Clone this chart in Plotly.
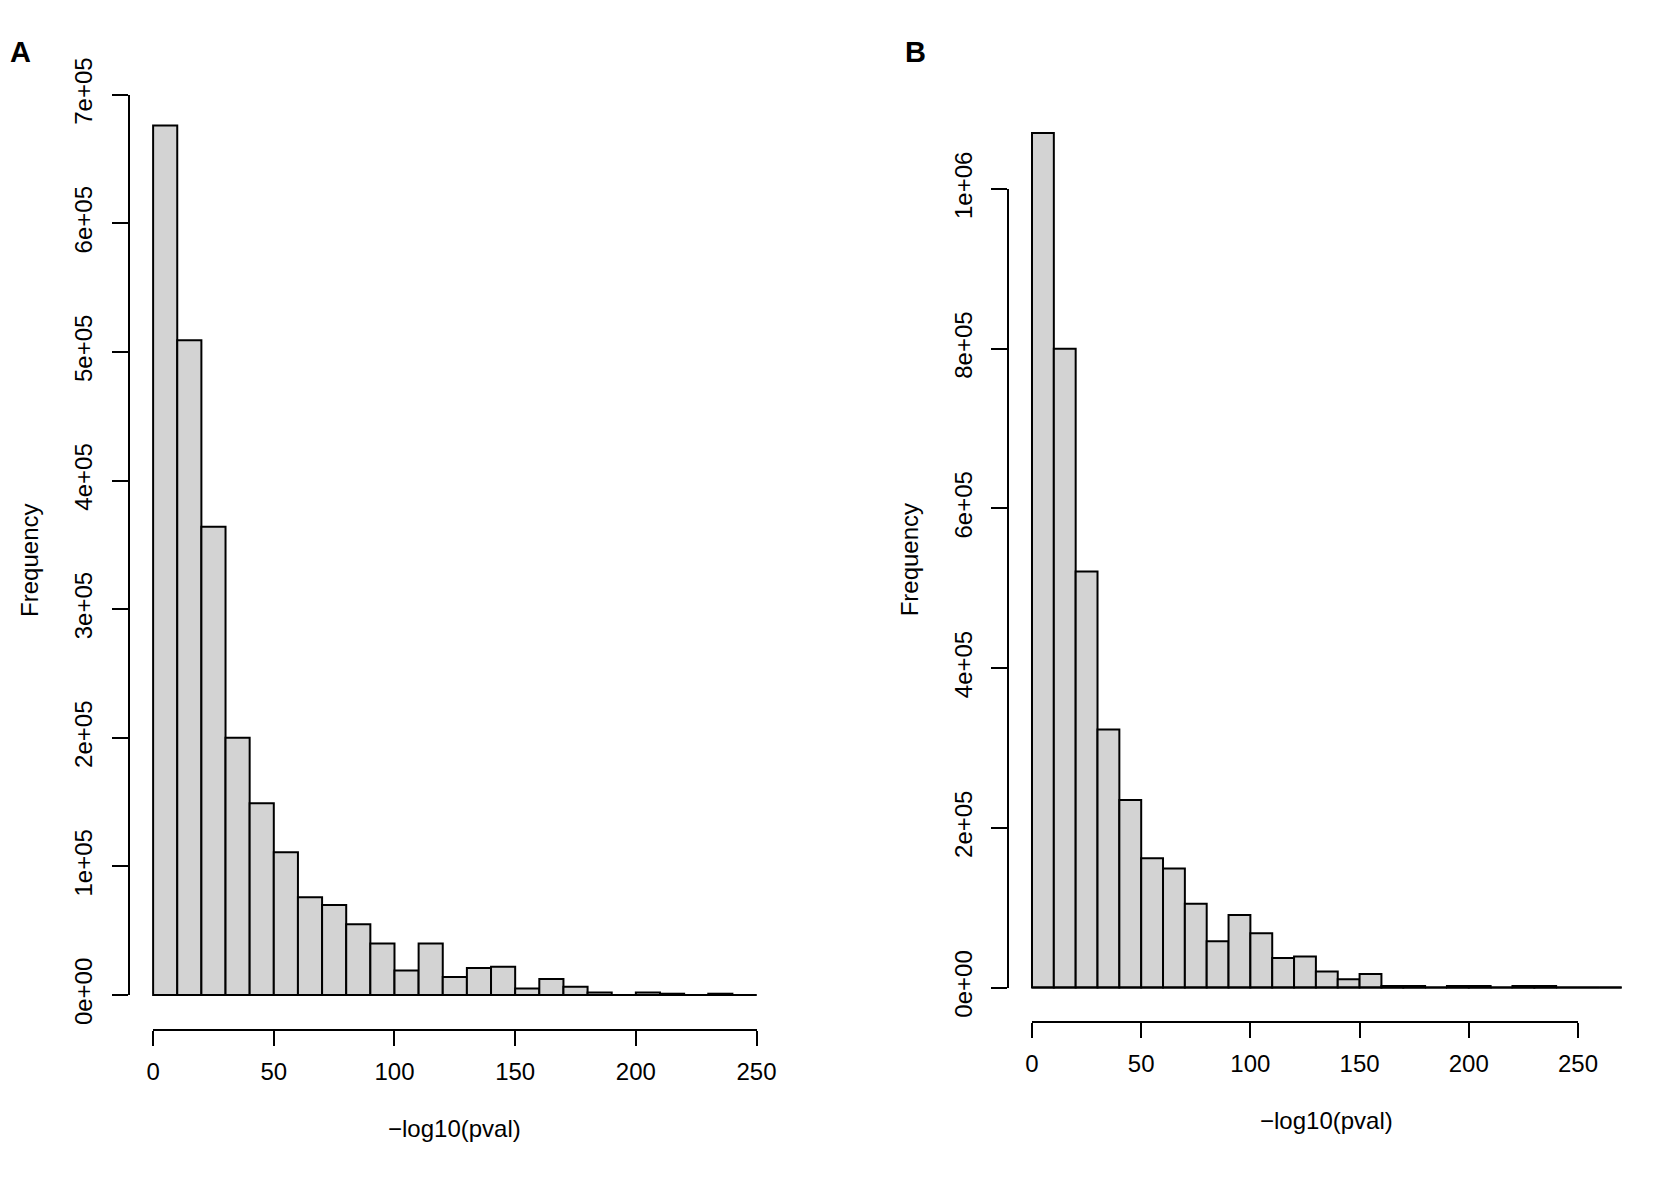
import plotly.graph_objects as go

W, H = 1656, 1190

# histogram data (bin width 10)
breaks_a = list(range(0, 260, 10))
counts_a = [676000, 509000, 364000, 200000, 149000, 111000, 76000, 70000, 55000, 40000,
            19000, 40000, 14000, 21000, 22000, 5000, 12500, 6500, 2000, 0,
            2000, 1000, 0, 1000, 0]

breaks_b = list(range(0, 280, 10))
counts_b = [1070000, 800000, 521000, 323000, 235000, 162000, 149000, 105000, 58000, 91000,
            68000, 37000, 39000, 20000, 10500, 17000, 2000, 2000, 0, 2000,
            2000, 0, 2000, 2000, 0, 0, 0]

yticks_a = [0, 100000, 200000, 300000, 400000, 500000, 600000, 700000]
ytext_a = ['0e+00', '1e+05', '2e+05', '3e+05', '4e+05', '5e+05', '6e+05', '7e+05']
yticks_b = [0, 200000, 400000, 600000, 800000, 1000000]
ytext_b = ['0e+00', '2e+05', '4e+05', '6e+05', '8e+05', '1e+06']
xticks = [0, 50, 100, 150, 200, 250]

font = 'Liberation Sans, Arial, sans-serif'
fill = '#D3D3D3'


def px(x):
    return x / W


def py(y):
    return 1 - y / H


def lin(v, lo, hi, p0, p1):
    return p0 + (v - lo) / (hi - lo) * (p1 - p0)


fig = go.Figure()
layout = {}
annotations = []


def panel(n, breaks, counts, yticks, ytext, box, letter, letter_x):
    # box = pixel rectangle of the R plot region: left, right, bottom, top
    left, right, bottom, top = box
    span = breaks[-1] - breaks[0]
    xlim = [breaks[0] - 0.04 * span, breaks[-1] + 0.04 * span]
    ymax = max(counts)
    ylim = [-0.04 * ymax, ymax * 1.04]

    xb, yb = 'x%d' % (2 * n - 1), 'y%d' % (2 * n - 1)
    xo, yo = 'x%d' % (2 * n), 'y%d' % (2 * n)
    kxb = 'xaxis' if n == 1 else 'xaxis%d' % (2 * n - 1)
    kyb = 'yaxis' if n == 1 else 'yaxis%d' % (2 * n - 1)
    kxo, kyo = 'xaxis%d' % (2 * n), 'yaxis%d' % (2 * n)

    # clip to the page if the region runs past the right edge
    xr = list(xlim)
    r = right
    if r > W:
        xr[1] = xlim[0] + (W - left) / (right - left) * (xlim[1] - xlim[0])
        r = W

    centers = [b + 5 for b in breaks[:-1]]
    fig.add_trace(go.Bar(x=centers, y=counts, width=10,
                         marker={'color': fill, 'line': {'color': 'black', 'width': 2}},
                         xaxis=xb, yaxis=yb, showlegend=False))
    fig.add_trace(go.Scatter(x=[breaks[0], breaks[-1]], y=[0, 0], mode='lines',
                             line={'color': 'black', 'width': 2},
                             xaxis=xb, yaxis=yb, showlegend=False, hoverinfo='skip'))
    # invisible trace so the R-style detached axes get drawn
    fig.add_trace(go.Scatter(x=[xticks[0]], y=[yticks[0]], mode='markers',
                             marker={'opacity': 0}, xaxis=xo, yaxis=yo,
                             showlegend=False, hoverinfo='skip'))

    layout[kxb] = {'domain': [px(left), px(r)], 'range': xr, 'visible': False,
                   'anchor': yb}
    layout[kyb] = {'domain': [py(bottom), py(top)], 'range': ylim, 'visible': False,
                   'anchor': xb}

    x0p = lin(xticks[0], xlim[0], xlim[1], left, right)
    x1p = lin(xticks[-1], xlim[0], xlim[1], left, right)
    y0p = lin(yticks[0], ylim[0], ylim[1], bottom, top)
    y1p = lin(yticks[-1], ylim[0], ylim[1], bottom, top)

    axis_style = {'showline': True, 'linecolor': 'black', 'linewidth': 2,
                  'ticks': 'outside', 'tickcolor': 'black', 'tickwidth': 2,
                  'showgrid': False, 'zeroline': False, 'fixedrange': True,
                  'tickfont': {'family': font, 'size': 24, 'color': 'black'}}
    layout[kxo] = dict(axis_style, domain=[px(x0p), px(x1p)],
                       range=[xticks[0], xticks[-1]], anchor='free', position=py(bottom),
                       tickvals=xticks, ticklen=15, ticklabelstandoff=5)
    layout[kyo] = dict(axis_style, domain=[py(y0p), py(y1p)],
                       range=[yticks[0], yticks[-1]], anchor='free', position=px(left),
                       tickvals=yticks, ticktext=ytext, ticklen=16, tickangle=-90,
                       ticklabelstandoff=10)

    annotations.append({'text': 'Frequency', 'textangle': -90, 'showarrow': False,
                        'xref': 'paper', 'x': px(left - 101), 'xanchor': 'center',
                        'yref': yb, 'y': (ylim[0] + ylim[1]) / 2, 'yanchor': 'middle',
                        'font': {'family': font, 'size': 24, 'color': 'black'}})
    annotations.append({'text': '\u2212log10(pval)', 'showarrow': False,
                        'xref': xb, 'x': (xlim[0] + xlim[1]) / 2, 'xanchor': 'center',
                        'yref': 'paper', 'y': py(bottom + 105), 'yanchor': 'middle',
                        'font': {'family': font, 'size': 24, 'color': 'black'}})
    annotations.append({'text': '<b>%s</b>' % letter, 'showarrow': False,
                        'xref': 'paper', 'x': px(letter_x), 'xanchor': 'center',
                        'yref': 'paper', 'y': py(16), 'yanchor': 'middle',
                        'font': {'family': font, 'size': 29, 'color': 'black'}})


panel(1, breaks_a, counts_a, yticks_a, ytext_a, (124, 786.5, 1052, 57), 'A', 14)
panel(2, breaks_b, counts_b, yticks_b, ytext_b, (1018, 1665.4, 1043.5, 65.5), 'B', 924)

fig.update_layout(width=W, height=H, margin={'l': 0, 'r': 0, 't': 0, 'b': 0},
                  paper_bgcolor='white', plot_bgcolor='rgba(0,0,0,0)',
                  font={'family': font, 'color': 'black'},
                  annotations=annotations, **layout)

fig.write_html("out.html", config={'displayModeBar': False},
               post_script="document.body.style.margin='0';"
                           "document.body.style.overflow='hidden';")
